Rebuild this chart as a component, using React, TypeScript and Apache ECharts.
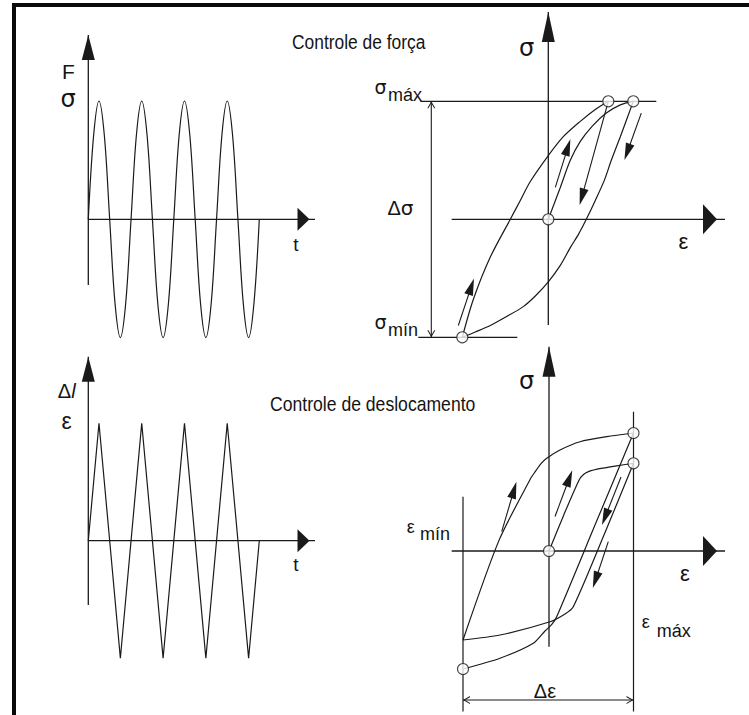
import React, { useEffect, useRef } from 'react';
import * as echarts from 'echarts';

// ---------- load histories (left panels) ----------
// force control: sinusoidal stress, sampled every 1/8 of a cycle
const forceTime = [
  0, 0.125, 0.25, 0.375, 0.5, 0.625, 0.75, 0.875,
  1, 1.125, 1.25, 1.375, 1.5, 1.625, 1.75, 1.875,
  2, 2.125, 2.25, 2.375, 2.5, 2.625, 2.75, 2.875,
  3, 3.125, 3.25, 3.375, 3.5, 3.625, 3.75, 3.875, 4,
];
const forceSigma = [
  0, 0.71, 1, 0.71, 0, -0.71, -1, -0.71,
  0, 0.71, 1, 0.71, 0, -0.71, -1, -0.71,
  0, 0.71, 1, 0.71, 0, -0.71, -1, -0.71,
  0, 0.71, 1, 0.71, 0, -0.71, -1, -0.71, 0,
];
// displacement control: triangular strain history
const dispTime = [0, 0.25, 0.75, 1.25, 1.75, 2.25, 2.75, 3.25, 3.75, 4];
const dispEps = [0, 1, -1, 1, -1, 1, -1, 1, -1, 0];
// axis extents of the history plots: [start, arrow tip]
const timeAxis = [0, 5.303];
const forceAxis = [-0.555, 1.558];
const dispAxis = [-0.547, 1.566];

// ---------- stress-controlled loop (top right), eps / sigma ----------
const loadEps = [0, 0.12, 0.22, 0.32, 0.44, 0.58, 0.72, 0.85];
const loadSig = [0, 0.27, 0.5, 0.66, 0.79, 0.9, 0.97, 1];
const reloadEps = [-0.86, -0.75, -0.58, -0.38, -0.28, -0.18, 0.0, 0.15, 0.32, 0.47, 0.6];
const reloadSig = [-1, -0.68, -0.32, 0.0, 0.16, 0.32, 0.54, 0.7, 0.83, 0.93, 1];
const unloadEps = [0.85, 0.79, 0.72, 0.63, 0.56, 0.47, 0.38, 0.3, 0.22, 0.12, 0, -0.13, -0.25, -0.43, -0.58, -0.73, -0.86];
const unloadSig = [1, 0.86, 0.7, 0.5, 0.33, 0.16, 0, -0.13, -0.24, -0.39, -0.53, -0.65, -0.74, -0.83, -0.9, -0.955, -1];
const stressPoints = [[0, 0], [0.6, 1], [0.85, 1], [-0.86, -1]];
const sigmaMax = 1;
const sigmaMin = -1;
const sigmaMaxSpan = [-1.28, 1.08];
const sigmaMinSpan = [-1.3, -0.31];
const deltaSigmaEps = -1.17;
const stressEpsAxis = [-0.966, 1.767];
const stressSigAxis = [-0.896, 1.757];
// direction arrows: [from, to]
const stressArrows = [
  [[-0.9, -0.9], [-0.77, -0.57]],
  [[0.07, 0.27], [0.195, 0.61]],
  [[0.6, 1], [0.336, 0.19]],
  [[0.93, 0.9], [0.79, 0.57]],
];

// ---------- strain-controlled loop (bottom right) ----------
const firstEps = [0, 0.15, 0.3, 0.345, 0.4, 0.52, 0.66, 0.845];
const firstSig = [0, 0.31, 0.6, 0.648, 0.675, 0.7, 0.72, 0.743];
const secondEps = [0.845, 0.55, 0.243, 0.16, 0.01, -0.49, -0.86];
const secondSig = [0.743, 0.136, -0.472, -0.534, -0.6, -0.712, -0.754];
const thirdEps = [-0.86, -0.5, -0.18, -0.14, -0.08, -0.023, 0.11, 0.31, 0.577, 0.845];
const thirdSig = [-0.754, 0.09, 0.62, 0.67, 0.74, 0.786, 0.856, 0.926, 0.969, 1];
const fourthEps = [0.845, 0.46, 0.077, 0.03, -0.04, -0.157, -0.49, -0.86];
const fourthSig = [1, 0.22, -0.557, -0.62, -0.678, -0.782, -0.909, -1];
const strainPoints = [[0, 0], [0.845, 0.743], [0.845, 1], [-0.86, -1]];
const epsMin = -0.86;
const epsMax = 0.845;
const epsMinSpan = [0.46, -1.36];
const epsMaxSpan = [1.18, -1.36];
const deltaEpsSigma = -1.263;
const strainEpsAxis = [-0.973, 1.76];
const strainSigAxis = [-0.811, 1.731];
const strainArrows = [
  [[-0.473, 0.164], [-0.35, 0.517]],
  [[0.06, 0.292], [0.203, 0.616]],
  [[0.72, 0.627], [0.561, 0.288]],
  [[0.593, 0.079], [0.465, -0.246]],
];

const INK = '#1a1a1a';
const FONT = '"Liberation Sans", Arial, Helvetica, sans-serif';
const GREEK = '"DejaVu Sans", "Liberation Sans", sans-serif';
const CHEVRON = 'path://M0,10 L5,0 L10,10 L8.6,10 L5,2.8 L1.4,10 Z';

const zip = (xs: number[], ys: number[]) => xs.map((x, i) => [x, ys[i]]);

// a panel: pixel box of the grid, pixel position of the data origin, px per unit
function panel(gi: number, box: number[], origin: number[], scale: number[]) {
  const [L, T, W, H] = box;
  const [ox, oy] = origin;
  const [sx, sy] = scale;
  const hidden = {
    type: 'value',
    gridIndex: gi,
    axisLine: { show: false },
    axisTick: { show: false },
    axisLabel: { show: false },
    splitLine: { show: false },
    silent: true,
  };
  return {
    grid: { left: L, top: T, width: W, height: H, outerBoundsMode: 'none' },
    x: { ...hidden, min: (L - ox) / sx, max: (L + W - ox) / sx },
    y: { ...hidden, min: (oy - (T + H)) / sy, max: (oy - T) / sy },
  };
}

function curve(gi: number, data: any[], smooth: number | boolean = 0.3, extra: any = {}) {
  return {
    type: 'line',
    xAxisIndex: gi,
    yAxisIndex: gi,
    data,
    symbol: 'none',
    showSymbol: false,
    smooth,
    clip: false,
    silent: true,
    lineStyle: { color: INK, width: 1.2 },
    z: 2,
    ...extra,
  };
}

// axis line with a filled arrow head whose tip sits on the end point
function axisArrow(gi: number, from: number[], to: number[], horizontal: boolean, size: number[]) {
  const [w, len] = size;
  return curve(gi, [
    { value: from, symbol: 'none' },
    {
      value: to,
      symbol: 'triangle',
      symbolSize: horizontal ? [len, w] : [w, len],
      symbolRotate: horizontal ? -90 : 0,
      symbolOffset: horizontal ? [-len / 2, 0] : [0, len / 2],
    },
  ], false, {
    showSymbol: true,
    itemStyle: { color: INK },
    lineStyle: { color: INK, width: 1.3 },
    z: 3,
  });
}

// dimension line with open heads at both ends
function dimension(gi: number, a: number[], b: number[], horizontal: boolean) {
  const head = (rot: number, off: number[]) => ({
    symbol: CHEVRON,
    symbolSize: [8, 7],
    symbolRotate: rot,
    symbolOffset: off,
  });
  return curve(gi, [
    { value: a, ...(horizontal ? head(90, [3.5, 0]) : head(180, [0, -3.5])) },
    { value: b, ...(horizontal ? head(-90, [-3.5, 0]) : head(0, [0, 3.5])) },
  ], false, {
    showSymbol: true,
    itemStyle: { color: INK },
    lineStyle: { color: INK, width: 1.1 },
  });
}

function circles(gi: number, pts: number[][], marks: number[][][]) {
  return {
    type: 'scatter',
    xAxisIndex: gi,
    yAxisIndex: gi,
    data: pts,
    symbol: 'circle',
    symbolSize: 11,
    clip: false,
    silent: true,
    itemStyle: { color: '#fff', borderColor: INK, borderWidth: 1.1 },
    z: 5,
    markLine: {
      silent: true,
      symbol: ['none', 'triangle'],
      symbolSize: [9, 17],
      label: { show: false },
      lineStyle: { color: INK, width: 1.1, type: 'solid' },
      emphasis: { disabled: true },
      data: marks.map(([a, b]) => [{ coord: a }, { coord: b }]),
    },
  };
}

function txt(text: string, x: number, y: number, size: number, align = 'center', extra: any = {}) {
  const { style, ...rest } = extra;
  return {
    type: 'text',
    x,
    y,
    silent: true,
    z: 10,
    ...rest,
    style: {
      text,
      fontSize: size,
      fontFamily: FONT,
      fill: '#141414',
      align,
      verticalAlign: 'middle',
      ...(style || {}),
    },
  };
}
const greek = (text: string, x: number, y: number, size: number, align = 'center') =>
  txt(text, x, y, size, align, { style: { fontFamily: GREEK } });

const tl = panel(0, [80, 28, 245, 318], [88.3, 219.3], [42.75, 118.3]);
const bl = panel(1, [80, 350, 245, 315], [88.3, 540.7], [42.75, 117.5]);
const tr = panel(2, [405, 5, 325, 340], [548.3, 219.3], [100, 118]);
const br = panel(3, [405, 340, 325, 375], [549, 551], [100, 118]);

const option: any = {
  animation: false,
  backgroundColor: '#ffffff',
  grid: [tl.grid, bl.grid, tr.grid, br.grid],
  xAxis: [tl.x, bl.x, tr.x, br.x],
  yAxis: [tl.y, bl.y, tr.y, br.y],
  series: [
    // load histories
    axisArrow(0, [timeAxis[0], 0], [timeAxis[1], 0], true, [12, 23]),
    axisArrow(0, [0, forceAxis[0]], [0, forceAxis[1]], false, [13, 25]),
    curve(0, zip(forceTime, forceSigma), 0.35),
    axisArrow(1, [timeAxis[0], 0], [timeAxis[1], 0], true, [12, 23]),
    axisArrow(1, [0, dispAxis[0]], [0, dispAxis[1]], false, [13, 25]),
    curve(1, zip(dispTime, dispEps), false),

    // stress-controlled loop
    axisArrow(2, [stressEpsAxis[0], 0], [stressEpsAxis[1], 0], true, [14, 30]),
    axisArrow(2, [0, stressSigAxis[0]], [0, stressSigAxis[1]], false, [13, 30]),
    curve(2, zip(loadEps, loadSig), 0.3),
    curve(2, zip(reloadEps, reloadSig), 0.3),
    curve(2, zip(unloadEps, unloadSig), 0.3),
    curve(2, [[sigmaMaxSpan[0], sigmaMax], [sigmaMaxSpan[1], sigmaMax]], false),
    curve(2, [[sigmaMinSpan[0], sigmaMin], [sigmaMinSpan[1], sigmaMin]], false),
    dimension(2, [deltaSigmaEps, sigmaMin], [deltaSigmaEps, sigmaMax], false),
    circles(2, stressPoints, stressArrows),

    // strain-controlled loop
    axisArrow(3, [strainEpsAxis[0], 0], [strainEpsAxis[1], 0], true, [14, 30]),
    axisArrow(3, [0, strainSigAxis[0]], [0, strainSigAxis[1]], false, [13, 30]),
    curve(3, zip(firstEps, firstSig), 0.25),
    curve(3, zip(secondEps, secondSig), 0.25),
    curve(3, zip(thirdEps, thirdSig), 0.25),
    curve(3, zip(fourthEps, fourthSig), 0.25),
    curve(3, [[epsMin, epsMinSpan[0]], [epsMin, epsMinSpan[1]]], false),
    curve(3, [[epsMax, epsMaxSpan[0]], [epsMax, epsMaxSpan[1]]], false),
    dimension(3, [epsMin, deltaEpsSigma], [epsMax, deltaEpsSigma], true),
    circles(3, strainPoints, strainArrows),
  ],
  graphic: [
    // frame
    { type: 'rect', shape: { x: 12, y: 3, width: 737, height: 4 }, style: { fill: '#0a0a0a' }, silent: true },
    { type: 'rect', shape: { x: 12, y: 3, width: 4, height: 712 }, style: { fill: '#0a0a0a' }, silent: true },

    // left panels
    txt('F', 68.3, 71, 21),
    greek('σ', 68, 99, 24),
    txt('t', 296, 244, 19),
    txt('{a|Δ}{b|l}', 66.7, 391, 20, 'center', {
      style: {
        rich: {
          a: { fontSize: 20, fontFamily: FONT, fill: '#141414' },
          b: { fontSize: 20, fontFamily: FONT, fontStyle: 'italic', fill: '#141414' },
        },
      },
    }),
    txt('ε', 66.7, 421, 23),
    txt('t', 296, 564, 19),

    // titles
    txt('Controle de força', 292, 42, 20, 'left', { scaleX: 0.87 }),
    txt('Controle de deslocamento', 270, 404, 20, 'left', { scaleX: 0.88 }),

    // top right
    greek('σ', 526.7, 48, 24),
    greek('σ', 380.5, 87, 19),
    txt('máx', 388, 95, 18, 'left'),
    txt('{a|Δ}{b|σ}', 400.5, 208, 20, 'center', {
      style: {
        rich: {
          a: { fontSize: 20, fontFamily: FONT, fill: '#141414' },
          b: { fontSize: 20, fontFamily: GREEK, fill: '#141414' },
        },
      },
    }),
    txt('ε', 683.5, 241, 22),
    greek('σ', 380.5, 321.5, 19),
    txt('mín', 388, 330, 18, 'left'),

    // bottom right
    greek('σ', 526.7, 381, 24),
    txt('ε', 410.8, 526.5, 18),
    txt('mín', 420, 534, 18, 'left'),
    txt('ε', 685, 573, 22),
    txt('ε', 645.8, 621.5, 18),
    txt('máx', 656.7, 630.8, 18, 'left'),
    txt('Δε', 545, 691, 20),
  ],
};

export default function App() {
  const ref = useRef<HTMLDivElement>(null);
  useEffect(() => {
    if (!ref.current) return;
    const chart = echarts.init(ref.current, null, { renderer: 'svg' });
    chart.setOption(option);
    return () => chart.dispose();
  }, []);
  return (
    <div
      ref={ref}
      style={{ position: 'absolute', left: 0, top: 0, width: 749, height: 715, background: '#fff' }}
    />
  );
}
